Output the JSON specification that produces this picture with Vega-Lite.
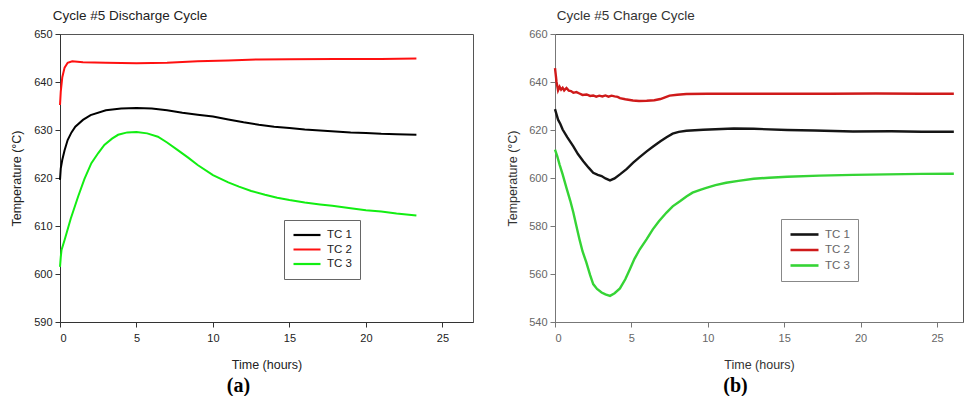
{
  "$schema": "https://vega.github.io/schema/vega-lite/v6.json",
  "padding": {"left": 10, "top": 8, "right": 0, "bottom": 0},
  "background": "white",
  "config": {
    "font": "Liberation Sans",
    "view": {"stroke": "#555555", "strokeWidth": 1},
    "axis": {"grid": false, "labelFont": "Liberation Sans", "titleFont": "Liberation Sans", "labelFontSize": 11, "titleFontSize": 12.5, "titleFontWeight": "normal", "tickSize": 5, "labelPadding": 3},
    "title": {"font": "Liberation Sans", "fontSize": 13.5, "fontWeight": "normal", "anchor": "start"},
    "legend": {"labelFont": "Liberation Sans"}
  },
  "datasets": {
    "discharge": [
      {"t": 0, "v": 619.6, "s": "TC 1"}, {"t": 0.05, "v": 622.0, "s": "TC 1"}, {"t": 0.15, "v": 623.8, "s": "TC 1"}, {"t": 0.3, "v": 625.8, "s": "TC 1"}, {"t": 0.5, "v": 627.9, "s": "TC 1"}, {"t": 0.75, "v": 629.5, "s": "TC 1"}, {"t": 1, "v": 630.7, "s": "TC 1"}, {"t": 1.5, "v": 632.1, "s": "TC 1"}, {"t": 2, "v": 633.1, "s": "TC 1"}, {"t": 3, "v": 634.1, "s": "TC 1"}, {"t": 4, "v": 634.5, "s": "TC 1"}, {"t": 5, "v": 634.6, "s": "TC 1"}, {"t": 6, "v": 634.5, "s": "TC 1"}, {"t": 7, "v": 634.1, "s": "TC 1"}, {"t": 8, "v": 633.6, "s": "TC 1"}, {"t": 9, "v": 633.2, "s": "TC 1"}, {"t": 10, "v": 632.8, "s": "TC 1"}, {"t": 11, "v": 632.2, "s": "TC 1"}, {"t": 12, "v": 631.6, "s": "TC 1"}, {"t": 13, "v": 631.1, "s": "TC 1"}, {"t": 14, "v": 630.7, "s": "TC 1"}, {"t": 15, "v": 630.4, "s": "TC 1"}, {"t": 16, "v": 630.1, "s": "TC 1"}, {"t": 17, "v": 629.9, "s": "TC 1"}, {"t": 18, "v": 629.7, "s": "TC 1"}, {"t": 19, "v": 629.5, "s": "TC 1"}, {"t": 20, "v": 629.4, "s": "TC 1"}, {"t": 21, "v": 629.2, "s": "TC 1"}, {"t": 22, "v": 629.1, "s": "TC 1"}, {"t": 23.3, "v": 629.0, "s": "TC 1"},
      {"t": 0, "v": 635.2, "s": "TC 2"}, {"t": 0.05, "v": 638.0, "s": "TC 2"}, {"t": 0.15, "v": 641.0, "s": "TC 2"}, {"t": 0.3, "v": 643.0, "s": "TC 2"}, {"t": 0.5, "v": 644.0, "s": "TC 2"}, {"t": 0.8, "v": 644.3, "s": "TC 2"}, {"t": 1.5, "v": 644.1, "s": "TC 2"}, {"t": 3, "v": 644.0, "s": "TC 2"}, {"t": 5, "v": 643.9, "s": "TC 2"}, {"t": 7, "v": 644.0, "s": "TC 2"}, {"t": 9, "v": 644.3, "s": "TC 2"}, {"t": 11, "v": 644.5, "s": "TC 2"}, {"t": 13, "v": 644.7, "s": "TC 2"}, {"t": 15, "v": 644.75, "s": "TC 2"}, {"t": 18, "v": 644.8, "s": "TC 2"}, {"t": 21, "v": 644.8, "s": "TC 2"}, {"t": 23.3, "v": 644.9, "s": "TC 2"},
      {"t": 0, "v": 601.5, "s": "TC 3"}, {"t": 0.05, "v": 603.5, "s": "TC 3"}, {"t": 0.1, "v": 605.0, "s": "TC 3"}, {"t": 0.3, "v": 607.1, "s": "TC 3"}, {"t": 0.7, "v": 611.5, "s": "TC 3"}, {"t": 1.18, "v": 616.1, "s": "TC 3"}, {"t": 1.6, "v": 619.8, "s": "TC 3"}, {"t": 2.05, "v": 623.1, "s": "TC 3"}, {"t": 2.5, "v": 625.2, "s": "TC 3"}, {"t": 2.9, "v": 626.9, "s": "TC 3"}, {"t": 3.4, "v": 628.2, "s": "TC 3"}, {"t": 3.8, "v": 629.0, "s": "TC 3"}, {"t": 4.4, "v": 629.5, "s": "TC 3"}, {"t": 5, "v": 629.6, "s": "TC 3"}, {"t": 5.7, "v": 629.3, "s": "TC 3"}, {"t": 6.4, "v": 628.6, "s": "TC 3"}, {"t": 7, "v": 627.4, "s": "TC 3"}, {"t": 7.7, "v": 625.8, "s": "TC 3"}, {"t": 8.4, "v": 624.2, "s": "TC 3"}, {"t": 9, "v": 622.7, "s": "TC 3"}, {"t": 10, "v": 620.6, "s": "TC 3"}, {"t": 11, "v": 619.1, "s": "TC 3"}, {"t": 11.7, "v": 618.2, "s": "TC 3"}, {"t": 12.5, "v": 617.3, "s": "TC 3"}, {"t": 13.4, "v": 616.5, "s": "TC 3"}, {"t": 14.2, "v": 615.9, "s": "TC 3"}, {"t": 15, "v": 615.4, "s": "TC 3"}, {"t": 16, "v": 614.9, "s": "TC 3"}, {"t": 17, "v": 614.5, "s": "TC 3"}, {"t": 17.8, "v": 614.2, "s": "TC 3"}, {"t": 19, "v": 613.7, "s": "TC 3"}, {"t": 20, "v": 613.3, "s": "TC 3"}, {"t": 21, "v": 613.0, "s": "TC 3"}, {"t": 22, "v": 612.6, "s": "TC 3"}, {"t": 23.3, "v": 612.2, "s": "TC 3"}
    ],
    "charge": [
      {"t": 0, "v": 628.7, "s": "TC 1"}, {"t": 0.1, "v": 626.5, "s": "TC 1"}, {"t": 0.2, "v": 624.3, "s": "TC 1"}, {"t": 0.35, "v": 622.5, "s": "TC 1"}, {"t": 0.5, "v": 620.2, "s": "TC 1"}, {"t": 0.8, "v": 617.0, "s": "TC 1"}, {"t": 1.2, "v": 613.2, "s": "TC 1"}, {"t": 1.5, "v": 610.0, "s": "TC 1"}, {"t": 1.85, "v": 607.0, "s": "TC 1"}, {"t": 2.2, "v": 604.3, "s": "TC 1"}, {"t": 2.5, "v": 602.2, "s": "TC 1"}, {"t": 2.8, "v": 601.3, "s": "TC 1"}, {"t": 3.05, "v": 600.8, "s": "TC 1"}, {"t": 3.3, "v": 599.8, "s": "TC 1"}, {"t": 3.6, "v": 599.0, "s": "TC 1"}, {"t": 3.9, "v": 599.8, "s": "TC 1"}, {"t": 4.25, "v": 601.5, "s": "TC 1"}, {"t": 4.7, "v": 603.8, "s": "TC 1"}, {"t": 5.1, "v": 606.3, "s": "TC 1"}, {"t": 5.5, "v": 608.5, "s": "TC 1"}, {"t": 6.0, "v": 611.1, "s": "TC 1"}, {"t": 6.4, "v": 613.0, "s": "TC 1"}, {"t": 6.9, "v": 615.3, "s": "TC 1"}, {"t": 7.3, "v": 617.0, "s": "TC 1"}, {"t": 7.7, "v": 618.5, "s": "TC 1"}, {"t": 8.1, "v": 619.2, "s": "TC 1"}, {"t": 8.6, "v": 619.7, "s": "TC 1"}, {"t": 9.7, "v": 620.1, "s": "TC 1"}, {"t": 11.7, "v": 620.6, "s": "TC 1"}, {"t": 13, "v": 620.5, "s": "TC 1"}, {"t": 15.2, "v": 620.0, "s": "TC 1"}, {"t": 17, "v": 619.8, "s": "TC 1"}, {"t": 19.5, "v": 619.4, "s": "TC 1"}, {"t": 22, "v": 619.5, "s": "TC 1"}, {"t": 24, "v": 619.3, "s": "TC 1"}, {"t": 26.1, "v": 619.3, "s": "TC 1"},
      {"t": 0, "v": 645.8, "s": "TC 2"}, {"t": 0.05, "v": 643.0, "s": "TC 2"}, {"t": 0.1, "v": 640.0, "s": "TC 2"}, {"t": 0.2, "v": 636.5, "s": "TC 2"}, {"t": 0.3, "v": 638.0, "s": "TC 2"}, {"t": 0.4, "v": 636.8, "s": "TC 2"}, {"t": 0.5, "v": 637.6, "s": "TC 2"}, {"t": 0.6, "v": 636.5, "s": "TC 2"}, {"t": 0.75, "v": 637.5, "s": "TC 2"}, {"t": 0.9, "v": 636.4, "s": "TC 2"}, {"t": 1.05, "v": 636.2, "s": "TC 2"}, {"t": 1.2, "v": 635.5, "s": "TC 2"}, {"t": 1.4, "v": 635.8, "s": "TC 2"}, {"t": 1.6, "v": 635.2, "s": "TC 2"}, {"t": 1.8, "v": 634.6, "s": "TC 2"}, {"t": 2.07, "v": 634.8, "s": "TC 2"}, {"t": 2.3, "v": 634.2, "s": "TC 2"}, {"t": 2.5, "v": 634.4, "s": "TC 2"}, {"t": 2.7, "v": 633.9, "s": "TC 2"}, {"t": 2.9, "v": 634.3, "s": "TC 2"}, {"t": 3.1, "v": 634.0, "s": "TC 2"}, {"t": 3.3, "v": 634.4, "s": "TC 2"}, {"t": 3.5, "v": 633.9, "s": "TC 2"}, {"t": 3.7, "v": 634.3, "s": "TC 2"}, {"t": 3.9, "v": 634.0, "s": "TC 2"}, {"t": 4.1, "v": 633.8, "s": "TC 2"}, {"t": 4.25, "v": 633.3, "s": "TC 2"}, {"t": 4.6, "v": 632.8, "s": "TC 2"}, {"t": 5.1, "v": 632.3, "s": "TC 2"}, {"t": 5.5, "v": 632.1, "s": "TC 2"}, {"t": 6.0, "v": 632.2, "s": "TC 2"}, {"t": 6.5, "v": 632.4, "s": "TC 2"}, {"t": 6.9, "v": 632.9, "s": "TC 2"}, {"t": 7.2, "v": 633.6, "s": "TC 2"}, {"t": 7.5, "v": 634.3, "s": "TC 2"}, {"t": 8.0, "v": 634.7, "s": "TC 2"}, {"t": 8.6, "v": 635.0, "s": "TC 2"}, {"t": 10, "v": 635.1, "s": "TC 2"}, {"t": 12, "v": 635.1, "s": "TC 2"}, {"t": 15, "v": 635.1, "s": "TC 2"}, {"t": 18, "v": 635.1, "s": "TC 2"}, {"t": 21, "v": 635.2, "s": "TC 2"}, {"t": 24, "v": 635.1, "s": "TC 2"}, {"t": 26.1, "v": 635.1, "s": "TC 2"},
      {"t": 0, "v": 611.8, "s": "TC 3"}, {"t": 0.15, "v": 609.0, "s": "TC 3"}, {"t": 0.3, "v": 605.6, "s": "TC 3"}, {"t": 0.5, "v": 601.5, "s": "TC 3"}, {"t": 0.75, "v": 595.9, "s": "TC 3"}, {"t": 1.0, "v": 590.5, "s": "TC 3"}, {"t": 1.2, "v": 585.6, "s": "TC 3"}, {"t": 1.4, "v": 580.0, "s": "TC 3"}, {"t": 1.6, "v": 574.5, "s": "TC 3"}, {"t": 1.8, "v": 569.5, "s": "TC 3"}, {"t": 2.05, "v": 564.8, "s": "TC 3"}, {"t": 2.3, "v": 559.5, "s": "TC 3"}, {"t": 2.5, "v": 555.8, "s": "TC 3"}, {"t": 2.75, "v": 553.8, "s": "TC 3"}, {"t": 3.05, "v": 552.3, "s": "TC 3"}, {"t": 3.3, "v": 551.5, "s": "TC 3"}, {"t": 3.6, "v": 550.9, "s": "TC 3"}, {"t": 3.9, "v": 552.0, "s": "TC 3"}, {"t": 4.25, "v": 554.0, "s": "TC 3"}, {"t": 4.6, "v": 557.8, "s": "TC 3"}, {"t": 4.9, "v": 562.0, "s": "TC 3"}, {"t": 5.2, "v": 566.3, "s": "TC 3"}, {"t": 5.55, "v": 570.3, "s": "TC 3"}, {"t": 6.0, "v": 574.5, "s": "TC 3"}, {"t": 6.4, "v": 578.6, "s": "TC 3"}, {"t": 6.8, "v": 582.0, "s": "TC 3"}, {"t": 7.3, "v": 585.6, "s": "TC 3"}, {"t": 7.7, "v": 588.2, "s": "TC 3"}, {"t": 8.2, "v": 590.4, "s": "TC 3"}, {"t": 8.6, "v": 592.3, "s": "TC 3"}, {"t": 9.0, "v": 593.9, "s": "TC 3"}, {"t": 9.5, "v": 595.1, "s": "TC 3"}, {"t": 9.9, "v": 595.9, "s": "TC 3"}, {"t": 10.5, "v": 597.0, "s": "TC 3"}, {"t": 11.2, "v": 598.0, "s": "TC 3"}, {"t": 12, "v": 598.8, "s": "TC 3"}, {"t": 13, "v": 599.7, "s": "TC 3"}, {"t": 14, "v": 600.1, "s": "TC 3"}, {"t": 15.2, "v": 600.5, "s": "TC 3"}, {"t": 17.3, "v": 601.0, "s": "TC 3"}, {"t": 19.5, "v": 601.3, "s": "TC 3"}, {"t": 21.7, "v": 601.5, "s": "TC 3"}, {"t": 24, "v": 601.7, "s": "TC 3"}, {"t": 26.1, "v": 601.8, "s": "TC 3"}
    ]
  },
  "spacing": 32,
  "resolve": {"scale": {"color": "independent", "x": "independent", "y": "independent"}, "legend": {"color": "independent"}},
  "hconcat": [
    {
      "width": 413,
      "height": 288,
      "title": {"text": "Cycle #5 Discharge Cycle", "dx": 42, "offset": 6, "color": "#222222"},
      "data": {"name": "discharge"},
      "resolve": {"axis": {"x": "independent"}},
      "layer": [
        {
          "mark": {"type": "line", "strokeWidth": 2},
          "encoding": {
            "x": {"field": "t", "type": "quantitative", "scale": {"domain": [0, 27], "nice": false}, "axis": {"title": "Time (hours)", "values": [0, 5, 10, 15, 20, 25], "labelColor": "#222222", "titleColor": "#222222", "domainColor": "#333333", "tickColor": "#333333", "labelPadding": 5, "titlePadding": 15}},
            "y": {"field": "v", "type": "quantitative", "scale": {"domain": [590, 650], "nice": false, "zero": false}, "axis": {"title": "Temperature (°C)", "values": [590, 600, 610, 620, 630, 640, 650], "labelColor": "#222222", "titleColor": "#222222", "domainColor": "#333333", "tickColor": "#333333", "titlePadding": 10}},
            "color": {"field": "s", "type": "nominal", "scale": {"domain": ["TC 1", "TC 2", "TC 3"], "range": ["#000000", "#ff1010", "#12ee12"]},
              "legend": {"title": null, "orient": "none", "legendX": 224, "legendY": 186, "strokeColor": "#666666", "fillColor": "white", "padding": 8, "symbolType": "stroke", "symbolSize": 729, "symbolStrokeWidth": 2.2, "labelFontSize": 11.5, "labelColor": "#222222", "labelOffset": 5, "clipHeight": 14, "rowPadding": 0.5, "labelLimit": 30}}
          }
        },
        {
          "mark": {"type": "point", "opacity": 0},
          "encoding": {
            "x": {"field": "t", "type": "quantitative", "scale": {"domain": [0, 27], "nice": false}, "axis": {"orient": "bottom", "title": "(a)", "labels": false, "ticks": false, "domain": false, "titleFont": "Liberation Serif", "titleFontWeight": "bold", "titleFontSize": 20, "titleColor": "#000000", "titleX": 178, "titleY": 53, "titleBaseline": "top", "titleAlign": "center"}}
          }
        }
      ]
    },
    {
      "width": 408,
      "height": 288,
      "title": {"text": "Cycle #5 Charge Cycle", "dx": 50, "offset": 6, "color": "#333333"},
      "data": {"name": "charge"},
      "resolve": {"axis": {"x": "independent"}},
      "layer": [
        {
          "mark": {"type": "line", "strokeWidth": 2.4},
          "encoding": {
            "x": {"field": "t", "type": "quantitative", "scale": {"domain": [0, 26.7], "nice": false}, "axis": {"title": "Time (hours)", "values": [0, 5, 10, 15, 20, 25], "labelColor": "#666666", "titleColor": "#333333", "domainColor": "#777777", "tickColor": "#777777", "labelPadding": 5, "titlePadding": 15}},
            "y": {"field": "v", "type": "quantitative", "scale": {"domain": [540, 660], "nice": false, "zero": false}, "axis": {"title": "Temperature (°C)", "values": [540, 560, 580, 600, 620, 640, 660], "labelColor": "#666666", "titleColor": "#333333", "domainColor": "#777777", "tickColor": "#777777", "titlePadding": 9}},
            "color": {"field": "s", "type": "nominal", "scale": {"domain": ["TC 1", "TC 2", "TC 3"], "range": ["#151515", "#cf1a1a", "#35d435"]},
              "legend": {"title": null, "orient": "none", "legendX": 226, "legendY": 185, "strokeColor": "#888888", "fillColor": "white", "padding": 8, "symbolType": "stroke", "symbolSize": 784, "symbolStrokeWidth": 2.6, "labelFontSize": 11.5, "labelColor": "#666666", "labelOffset": 5, "clipHeight": 15, "rowPadding": 0.5, "labelLimit": 30}}
          }
        },
        {
          "mark": {"type": "point", "opacity": 0},
          "encoding": {
            "x": {"field": "t", "type": "quantitative", "scale": {"domain": [0, 26.7], "nice": false}, "axis": {"orient": "bottom", "title": "(b)", "labels": false, "ticks": false, "domain": false, "titleFont": "Liberation Serif", "titleFontWeight": "bold", "titleFontSize": 20, "titleColor": "#000000", "titleX": 180, "titleY": 53, "titleBaseline": "top", "titleAlign": "center"}}
          }
        }
      ]
    }
  ]
}
